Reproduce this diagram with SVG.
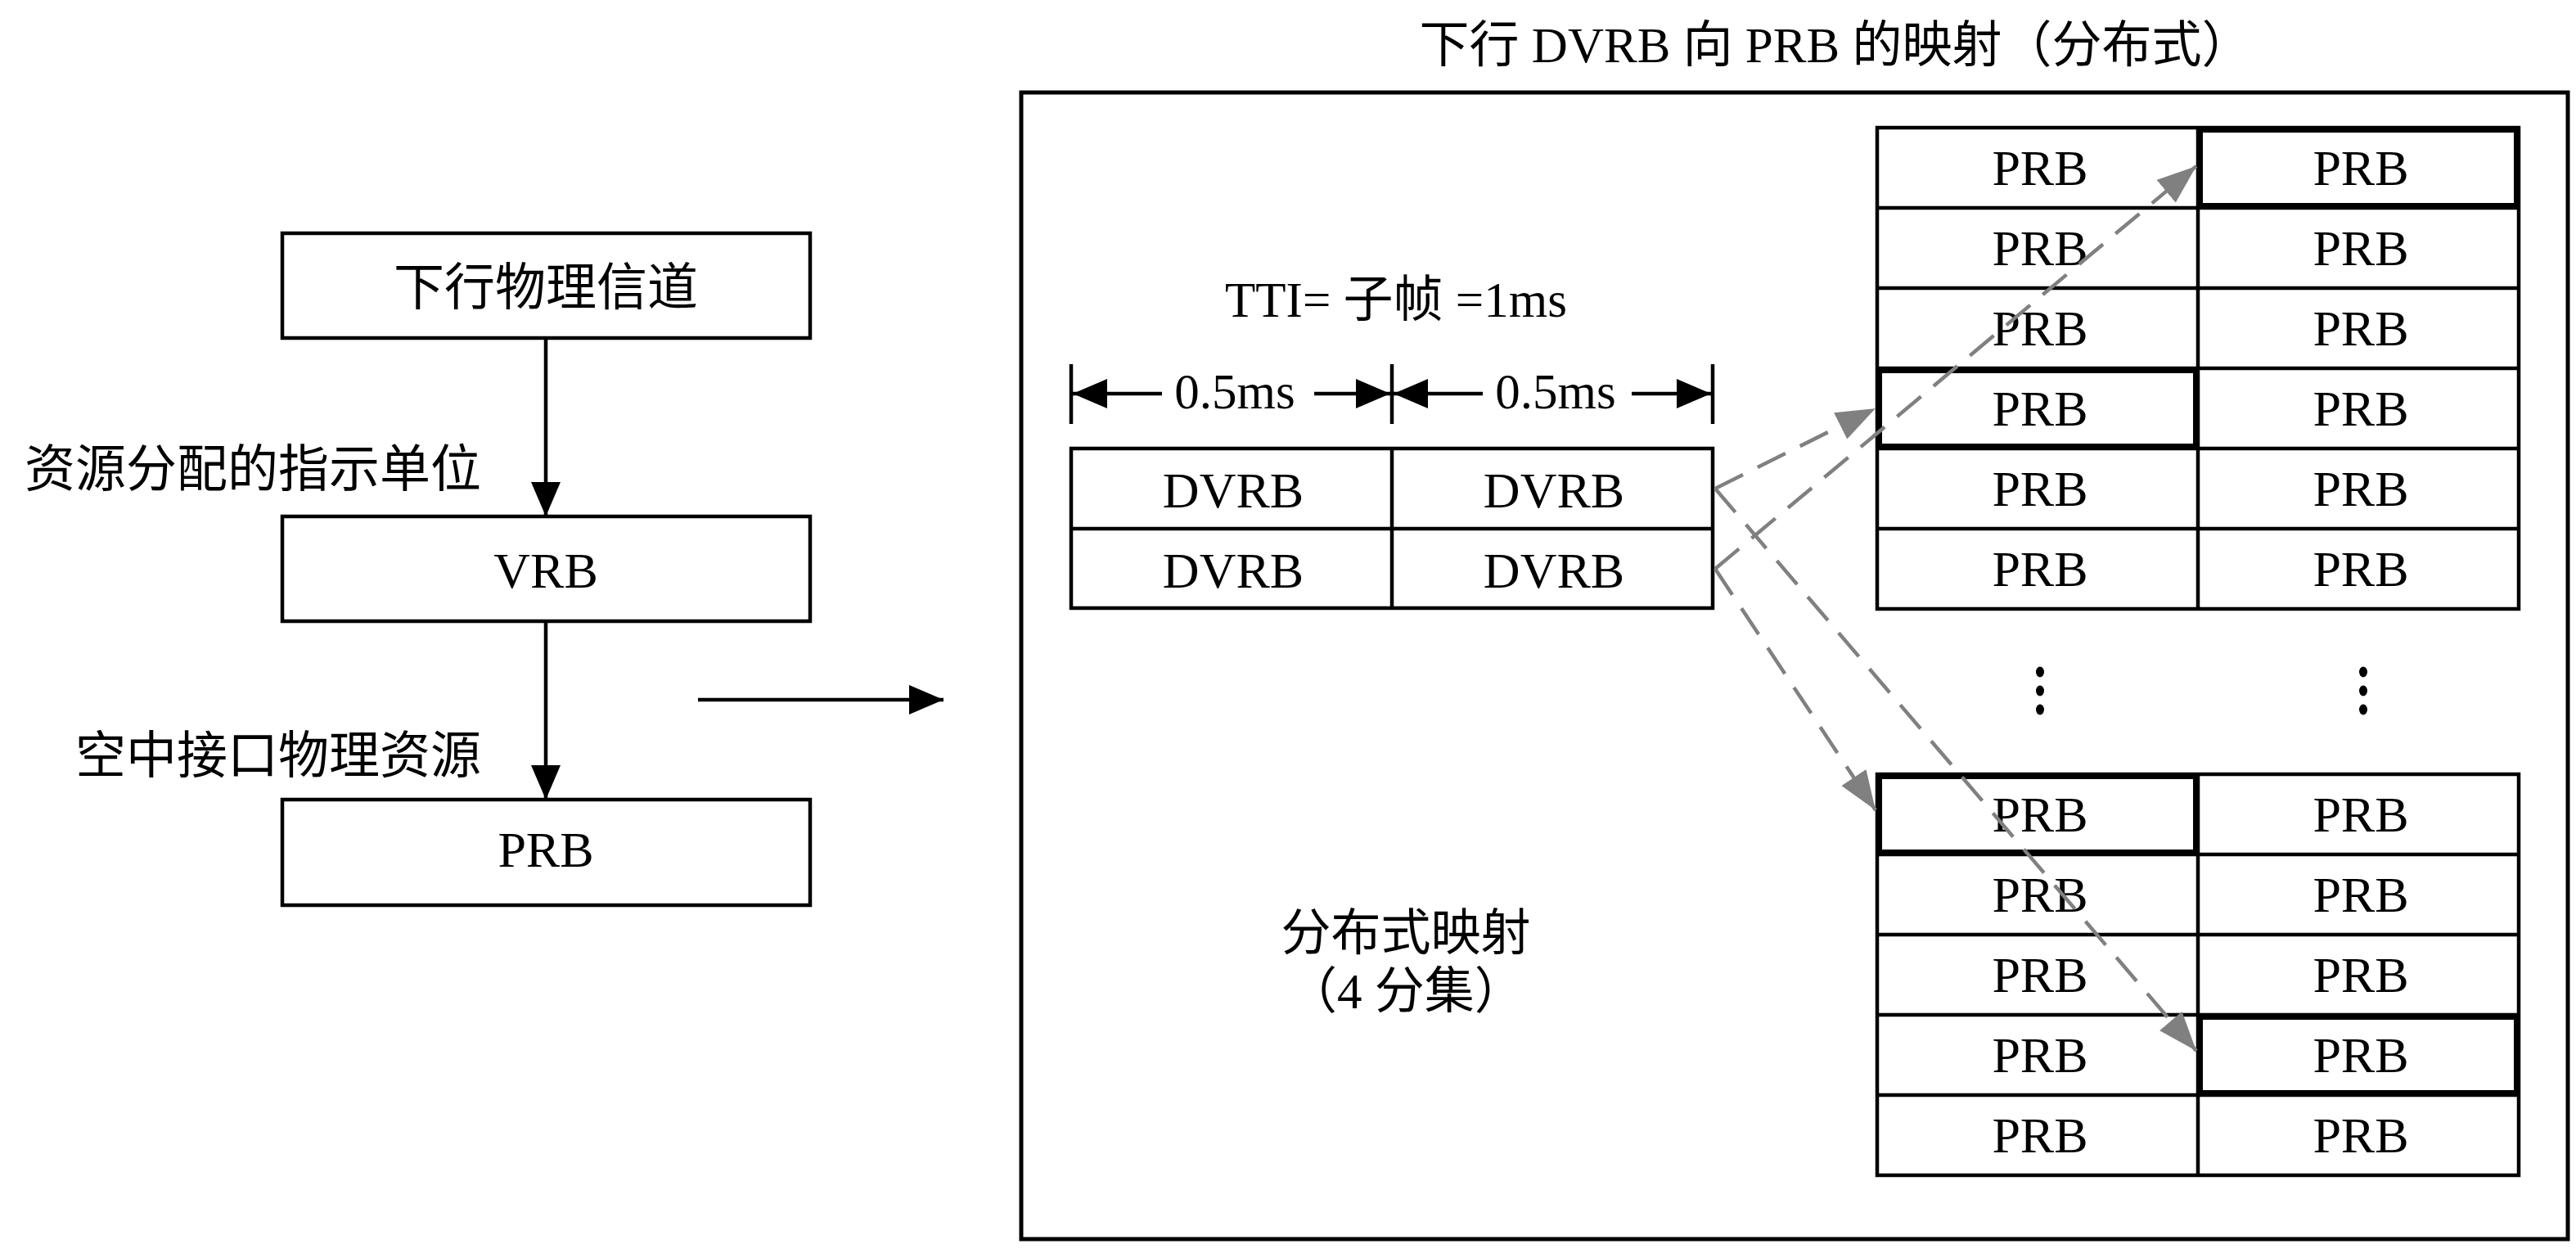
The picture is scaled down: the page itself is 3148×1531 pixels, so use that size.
<svg xmlns="http://www.w3.org/2000/svg" width="3148" height="1531" viewBox="0 0 3148 1531">
<style>
.t{font-family:'Liberation Serif','Noto Sans CJK SC',serif;fill:#000}
.box{fill:none;stroke:#000;stroke-width:4.5}
.frame{fill:none;stroke:#000;stroke-width:5}
.bold{fill:none;stroke:#000;stroke-width:8}
.ln{stroke:#000;stroke-width:4.5;fill:none}
.dash{stroke:#808080;stroke-width:4.5;fill:none;stroke-dasharray:38 20}
</style>
<defs>
<marker id="ah" markerUnits="userSpaceOnUse" viewBox="0 0 42 36" markerWidth="42" markerHeight="36" refX="42" refY="18" orient="auto">
<path d="M0,0 L42,18 L0,36 z" fill="#000"/>
</marker>
<marker id="gh" markerUnits="userSpaceOnUse" viewBox="0 0 48 36" markerWidth="48" markerHeight="36" refX="48" refY="18" orient="auto">
<path d="M0,0 L48,18 L0,36 z" fill="#808080"/>
</marker>
</defs>
<rect width="3148" height="1531" fill="#fff"/>

<g id="node-channel">
<rect class="box" x="345" y="285" width="645" height="128"/>
<text class="t" x="667" y="373" font-size="62" text-anchor="middle">下行物理信道</text>
</g>
<g id="node-vrb">
<rect class="box" x="345" y="631" width="645" height="128"/>
<text class="t" x="667" y="718" font-size="62" text-anchor="middle">VRB</text>
</g>
<g id="node-prb">
<rect class="box" x="345" y="977" width="645" height="129"/>
<text class="t" x="667" y="1059" font-size="62" text-anchor="middle">PRB</text>
</g>
<g id="label-unit">
<text class="t" x="588" y="595" font-size="62" text-anchor="end">资源分配的指示单位</text>
</g>
<g id="label-air">
<text class="t" x="588" y="945" font-size="62" text-anchor="end">空中接口物理资源</text>
</g>

<g id="title">
<text class="t" x="2243" y="76" font-size="61" text-anchor="middle">下行 DVRB 向 PRB 的映射（分布式）</text>
</g>
<g id="frame">
<rect class="frame" x="1248" y="113" width="1890" height="1401"/>
</g>

<g id="tti">
<text class="t" x="1706" y="387" font-size="61" text-anchor="middle">TTI= 子帧 =1ms</text>
<line class="ln" x1="1309" y1="445" x2="1309" y2="518"/>
<line class="ln" x1="1701" y1="445" x2="1701" y2="518"/>
<line class="ln" x1="2093" y1="445" x2="2093" y2="518"/>
<line class="ln" x1="1420" y1="481" x2="1311" y2="481" marker-end="url(#ah)"/>
<line class="ln" x1="1606" y1="481" x2="1699" y2="481" marker-end="url(#ah)"/>
<line class="ln" x1="1812" y1="481" x2="1703" y2="481" marker-end="url(#ah)"/>
<line class="ln" x1="1994" y1="481" x2="2091" y2="481" marker-end="url(#ah)"/>
<text class="t" x="1509" y="499" font-size="61" text-anchor="middle">0.5ms</text>
<text class="t" x="1901" y="499" font-size="61" text-anchor="middle">0.5ms</text>
</g>

<g id="dvrb-table">
<rect class="box" x="1309" y="548" width="784" height="195"/>
<line class="ln" x1="1701" y1="548" x2="1701" y2="743"/>
<line class="ln" x1="1309" y1="646" x2="2093" y2="646"/>
<text class="t" x="1507" y="620" font-size="62" text-anchor="middle">DVRB</text>
<text class="t" x="1899" y="620" font-size="62" text-anchor="middle">DVRB</text>
<text class="t" x="1507" y="718" font-size="62" text-anchor="middle">DVRB</text>
<text class="t" x="1899" y="718" font-size="62" text-anchor="middle">DVRB</text>
</g>

<g id="prb-table-top">
<rect class="box" x="2294" y="156" width="784" height="588"/>
<line class="ln" x1="2686" y1="156" x2="2686" y2="744"/>
<line class="ln" x1="2294" y1="254" x2="3078" y2="254"/>
<line class="ln" x1="2294" y1="352" x2="3078" y2="352"/>
<line class="ln" x1="2294" y1="450" x2="3078" y2="450"/>
<line class="ln" x1="2294" y1="548" x2="3078" y2="548"/>
<line class="ln" x1="2294" y1="646" x2="3078" y2="646"/>
<rect class="bold" x="2688" y="158" width="388" height="94"/>
<rect class="bold" x="2296" y="452" width="388" height="94"/>
<g font-size="62" text-anchor="middle">
<text class="t" x="2493" y="226">PRB</text><text class="t" x="2885" y="226">PRB</text>
<text class="t" x="2493" y="324">PRB</text><text class="t" x="2885" y="324">PRB</text>
<text class="t" x="2493" y="422">PRB</text><text class="t" x="2885" y="422">PRB</text>
<text class="t" x="2493" y="520">PRB</text><text class="t" x="2885" y="520">PRB</text>
<text class="t" x="2493" y="618">PRB</text><text class="t" x="2885" y="618">PRB</text>
<text class="t" x="2493" y="716">PRB</text><text class="t" x="2885" y="716">PRB</text>
</g>
</g>

<g id="ellipsis">
<ellipse cx="2493" cy="821" rx="5" ry="6.5"/>
<ellipse cx="2493" cy="844" rx="5" ry="6.5"/>
<ellipse cx="2493" cy="867" rx="5" ry="6.5"/>
<ellipse cx="2888" cy="821" rx="5" ry="6.5"/>
<ellipse cx="2888" cy="844" rx="5" ry="6.5"/>
<ellipse cx="2888" cy="867" rx="5" ry="6.5"/>
</g>

<g id="prb-table-bottom">
<rect class="box" x="2294" y="946" width="784" height="490"/>
<line class="ln" x1="2686" y1="946" x2="2686" y2="1436"/>
<line class="ln" x1="2294" y1="1044" x2="3078" y2="1044"/>
<line class="ln" x1="2294" y1="1142" x2="3078" y2="1142"/>
<line class="ln" x1="2294" y1="1240" x2="3078" y2="1240"/>
<line class="ln" x1="2294" y1="1338" x2="3078" y2="1338"/>
<rect class="bold" x="2296" y="948" width="388" height="94"/>
<rect class="bold" x="2688" y="1242" width="388" height="94"/>
<g font-size="62" text-anchor="middle">
<text class="t" x="2493" y="1016">PRB</text><text class="t" x="2885" y="1016">PRB</text>
<text class="t" x="2493" y="1114">PRB</text><text class="t" x="2885" y="1114">PRB</text>
<text class="t" x="2493" y="1212">PRB</text><text class="t" x="2885" y="1212">PRB</text>
<text class="t" x="2493" y="1310">PRB</text><text class="t" x="2885" y="1310">PRB</text>
<text class="t" x="2493" y="1408">PRB</text><text class="t" x="2885" y="1408">PRB</text>
</g>
</g>

<g id="label-mapping">
<text class="t" x="1718" y="1161" font-size="61" text-anchor="middle">分布式映射</text>
<text class="t" x="1718" y="1232" font-size="61" text-anchor="middle">（4 分集）</text>
</g>

<g id="connectors">
<line class="ln" x1="667" y1="413" x2="667" y2="631" marker-end="url(#ah)"/>
<line class="ln" x1="667" y1="759" x2="667" y2="977" marker-end="url(#ah)"/>
<line class="ln" x1="853" y1="855" x2="1153" y2="855" marker-end="url(#ah)"/>
<line class="dash" x1="2096" y1="597" x2="2292" y2="499" marker-end="url(#gh)"/>
<line class="dash" x1="2096" y1="695" x2="2684" y2="203" marker-end="url(#gh)"/>
<line class="dash" x1="2096" y1="597" x2="2684" y2="1284" marker-end="url(#gh)"/>
<line class="dash" x1="2096" y1="695" x2="2292" y2="990" marker-end="url(#gh)"/>
</g>
</svg>
